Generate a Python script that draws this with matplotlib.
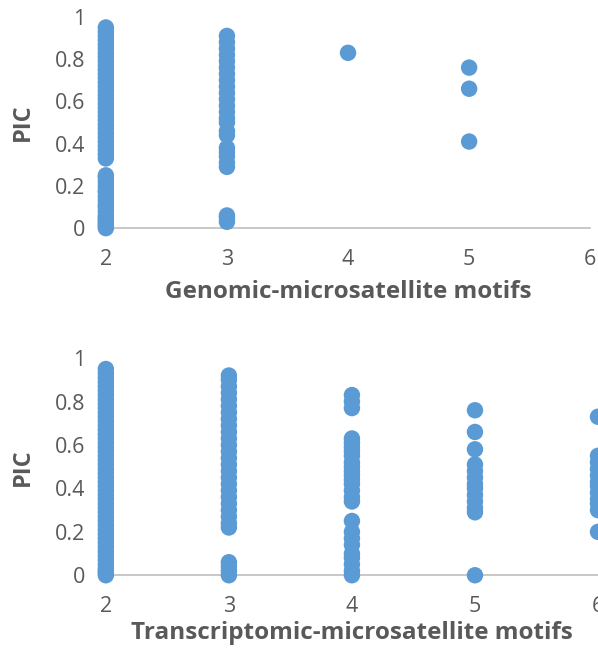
import matplotlib
matplotlib.use("Agg")
import matplotlib.pyplot as plt

plt.rcParams['font.family'] = ['Open Sans', 'DejaVu Sans']

# genomic microsatellites: PIC per motif length
gen_x2 = [0.0, 0.01, 0.02, 0.03, 0.04, 0.05, 0.06, 0.08, 0.10, 0.11, 0.13, 0.15,
          0.17, 0.18, 0.20, 0.22, 0.24, 0.25, 0.33, 0.35, 0.37, 0.39, 0.41, 0.43,
          0.45, 0.47, 0.49, 0.51, 0.53, 0.55, 0.57, 0.59, 0.61, 0.63, 0.65, 0.67,
          0.69, 0.71, 0.73, 0.75, 0.77, 0.79, 0.81, 0.83, 0.85, 0.87, 0.89, 0.91,
          0.93, 0.95]
gen_x3 = [0.03, 0.05, 0.06, 0.29, 0.31, 0.34, 0.36, 0.38, 0.44, 0.46, 0.50,
          0.52, 0.55, 0.58, 0.61, 0.64, 0.67, 0.70, 0.73, 0.76, 0.79, 0.82,
          0.85, 0.88, 0.91]
gen_x4 = [0.83]
gen_x5 = [0.76, 0.66, 0.41]

# transcriptomic microsatellites
tr_x2 = [0.0, 0.01, 0.02, 0.03, 0.05, 0.07, 0.09, 0.11, 0.13, 0.15, 0.17, 0.19,
         0.21, 0.23, 0.25, 0.27, 0.29, 0.31, 0.33, 0.35, 0.37, 0.39, 0.41, 0.43,
         0.45, 0.47, 0.49, 0.51, 0.53, 0.55, 0.57, 0.59, 0.61, 0.63, 0.65, 0.67,
         0.69, 0.71, 0.73, 0.75, 0.77, 0.79, 0.81, 0.83, 0.85, 0.87, 0.89, 0.91,
         0.93, 0.95]
tr_x3 = [0.0, 0.02, 0.04, 0.06, 0.22, 0.24, 0.27, 0.30, 0.33, 0.36, 0.39, 0.42,
         0.45, 0.48, 0.51, 0.54, 0.57, 0.60, 0.63, 0.66, 0.69, 0.72, 0.75,
         0.78, 0.81, 0.84, 0.87, 0.90, 0.92]
tr_x4 = [0.0, 0.02, 0.05, 0.08, 0.10, 0.14, 0.17, 0.20, 0.25, 0.34, 0.36, 0.39,
         0.42, 0.44, 0.46, 0.48, 0.50, 0.52, 0.55, 0.57, 0.59, 0.61, 0.63,
         0.77, 0.80, 0.83]
tr_x5 = [0.0, 0.29, 0.31, 0.34, 0.37, 0.40, 0.42, 0.45, 0.48, 0.51, 0.58,
         0.66, 0.76]
tr_x6 = [0.20, 0.30, 0.33, 0.35, 0.38, 0.41, 0.43, 0.46, 0.49, 0.52, 0.55,
         0.73]

yticks = [0, 0.2, 0.4, 0.6, 0.8, 1]
ytick_labels = ['0', '0.2', '0.4', '0.6', '0.8', '1']
xticks = [2, 3, 4, 5, 6]

blue = '#5B9BD5'
grey = '#595959'

fig = plt.figure(figsize=(5.98, 6.5), dpi=100)
ax1 = fig.add_axes([0.177, 0.649, 0.810, 0.325])
ax2 = fig.add_axes([0.177, 0.115, 0.823, 0.334])


def style(ax, xlabel, xlab_y, ylab_x):
    ax.set_xlim(2, 6)
    ax.set_ylim(0, 1)
    for s in ['top', 'right', 'left']:
        ax.spines[s].set_visible(False)
    ax.spines['bottom'].set_color('#BFBFBF')
    ax.spines['bottom'].set_linewidth(1.2)
    ax.set_xticks(xticks)
    ax.set_yticks(yticks)
    ax.set_yticklabels(ytick_labels)
    ax.tick_params(length=0, labelsize=15.5, colors=grey)
    ax.tick_params(axis='x', pad=15)
    ax.tick_params(axis='y', pad=15)
    ax.set_xlabel(xlabel, fontsize=17.5, fontweight='bold', color=grey)
    ax.set_ylabel('PIC', fontsize=17, fontweight='bold', color=grey)
    ax.xaxis.set_label_coords(0.5, xlab_y)
    ax.yaxis.set_label_coords(ylab_x, 0.5)


groups1 = [(2, gen_x2), (3, gen_x3), (4, gen_x4), (5, gen_x5)]
for xv, ys in groups1:
    ax1.scatter([xv] * len(ys), ys, s=140, color=blue, edgecolors='none',
                clip_on=False, zorder=3)
style(ax1, 'Genomic-microsatellite motifs', -0.245, -0.147)

groups2 = [(2, tr_x2), (3, tr_x3), (4, tr_x4), (5, tr_x5), (6, tr_x6)]
for xv, ys in groups2:
    ax2.scatter([xv] * len(ys), ys, s=140, color=blue, edgecolors='none',
                clip_on=False, zorder=3)
style(ax2, 'Transcriptomic-microsatellite motifs', -0.212, -0.144)

fig.savefig('out.png', dpi=100)
